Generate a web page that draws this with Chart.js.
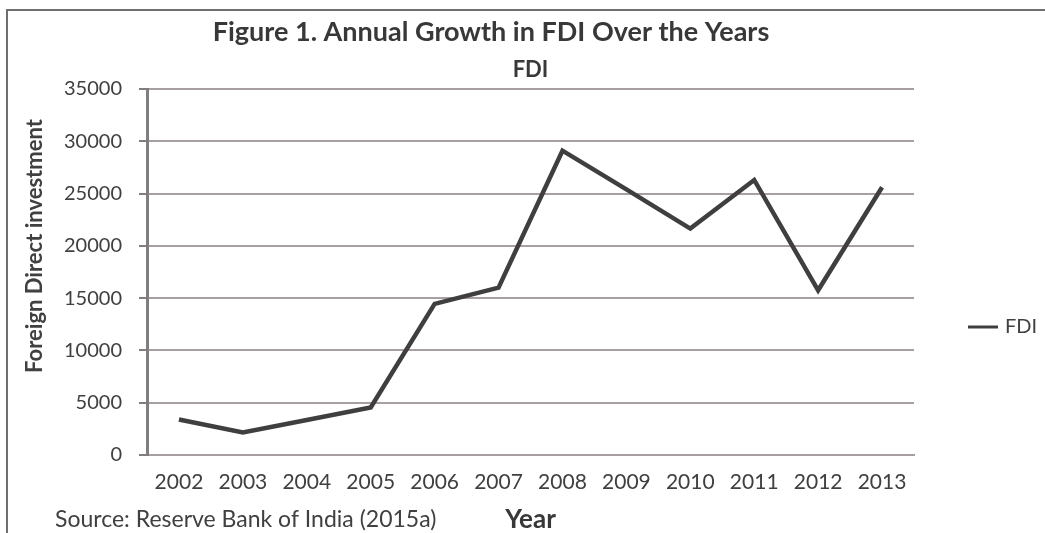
<!DOCTYPE html>
<html>
<head>
<meta charset="utf-8">
<script src="https://cdn.jsdelivr.net/npm/chart.js@4/dist/chart.umd.min.js"></script>
<style>
  html, body { margin: 0; padding: 0; background: #fff; }
  #wrap { position: relative; width: 1045px; height: 533px; overflow: hidden; }
  #frame { position: absolute; left: 6px; top: 9px; width: 1045px; height: 530px;
           border-left: 2px solid #6f6f6f; border-top: 2px solid #6f6f6f; pointer-events: none; }
</style>
</head>
<body>
<div id="wrap">
  <canvas id="chart" width="1045" height="533"></canvas>
  <div id="frame"></div>
</div>
<script>
// Data
const years = ['2002', '2003', '2004', '2005', '2006', '2007', '2008', '2009', '2010', '2011', '2012', '2013'];
const fdi = [3400, 2150, 3350, 4550, 14450, 16000, 29100, 25400, 21650, 26300, 15750, 25600];
const yTicks = [0, 5000, 10000, 15000, 20000, 25000, 30000, 35000];

const titleText = 'Figure 1. Annual Growth in FDI Over the Years';
const subtitleText = 'FDI';
const yTitleText = 'Foreign Direct investment';
const xTitleText = 'Year';
const sourceText = 'Source: Reserve Bank of India (2015a)';

const FONT = 'Lato, "Open Sans", sans-serif';
const TEXT = '#404040';

// Free text + legend drawn on the canvas
const captions = {
  id: 'captions',
  afterDraw(chart) {
    const ctx = chart.ctx;
    const area = chart.chartArea;
    ctx.save();
    ctx.fillStyle = '#383838';
    ctx.textBaseline = 'middle';
    ctx.textAlign = 'center';
    ctx.font = 'bold 27px ' + FONT;
    ctx.fillText(titleText, 491, 32);

    ctx.font = 'bold 22px ' + FONT;
    ctx.fillText(subtitleText, (area.left + area.right) / 2, 70);

    ctx.fillStyle = TEXT;
    ctx.font = '23px ' + FONT;
    ctx.textAlign = 'left';
    ctx.fillText(sourceText, 55, 520);

    // rotated y title
    ctx.save();
    ctx.translate(35, 246);
    ctx.rotate(-Math.PI / 2);
    ctx.textAlign = 'center';
    ctx.font = 'bold 22px ' + FONT;
    ctx.fillText(yTitleText, 0, 0);
    ctx.restore();

    // legend
    const ds = chart.data.datasets[0];
    ctx.strokeStyle = ds.borderColor;
    ctx.lineWidth = 3;
    ctx.beginPath();
    ctx.moveTo(968, 327);
    ctx.lineTo(998, 327);
    ctx.stroke();
    ctx.fillStyle = TEXT;
    ctx.font = '20px ' + FONT;
    ctx.textAlign = 'left';
    ctx.fillText(ds.label, 1005, 327);
    ctx.restore();
  }
};

new Chart(document.getElementById('chart'), {
  type: 'line',
  data: {
    labels: years,
    datasets: [{
      label: 'FDI',
      data: fdi,
      borderColor: '#3f3f3f',
      borderWidth: 4.5,
      pointRadius: 0,
      tension: 0,
      fill: false
    }]
  },
  options: {
    responsive: false,
    animation: false,
    devicePixelRatio: 1,
    layout: { padding: { left: 10, right: 131, top: 89, bottom: 0 } },
    plugins: {
      legend: { display: false },
      title: { display: false },
      tooltip: { enabled: false }
    },
    scales: {
      x: {
        offset: true,
        grid: { display: false },
        border: { display: true, color: '#a89fa1', width: 2 },
        ticks: { color: TEXT, font: { family: FONT, size: 21 }, padding: 7, maxRotation: 0 },
        title: {
          display: true, text: xTitleText, color: '#383838',
          font: { family: FONT, size: 26, weight: 'bold' },
          padding: { top: 0, bottom: -2 }
        },
        afterFit(scale) { scale.height = 78; }
      },
      y: {
        min: 0,
        max: 35000,
        afterBuildTicks(scale) { scale.ticks = yTicks.map(v => ({ value: v })); },
        grid: { color: '#a89fa1', lineWidth: 2, tickLength: 8, tickColor: '#7f7f7f', tickWidth: 2 },
        border: { color: '#7f7f7f', width: 3 },
        ticks: {
          color: TEXT, font: { family: FONT, size: 20 }, padding: 17,
          callback: v => String(v)
        },
        afterFit(scale) { scale.width = 137; }
      }
    }
  },
  plugins: [captions]
});
</script>
</body>
</html>
